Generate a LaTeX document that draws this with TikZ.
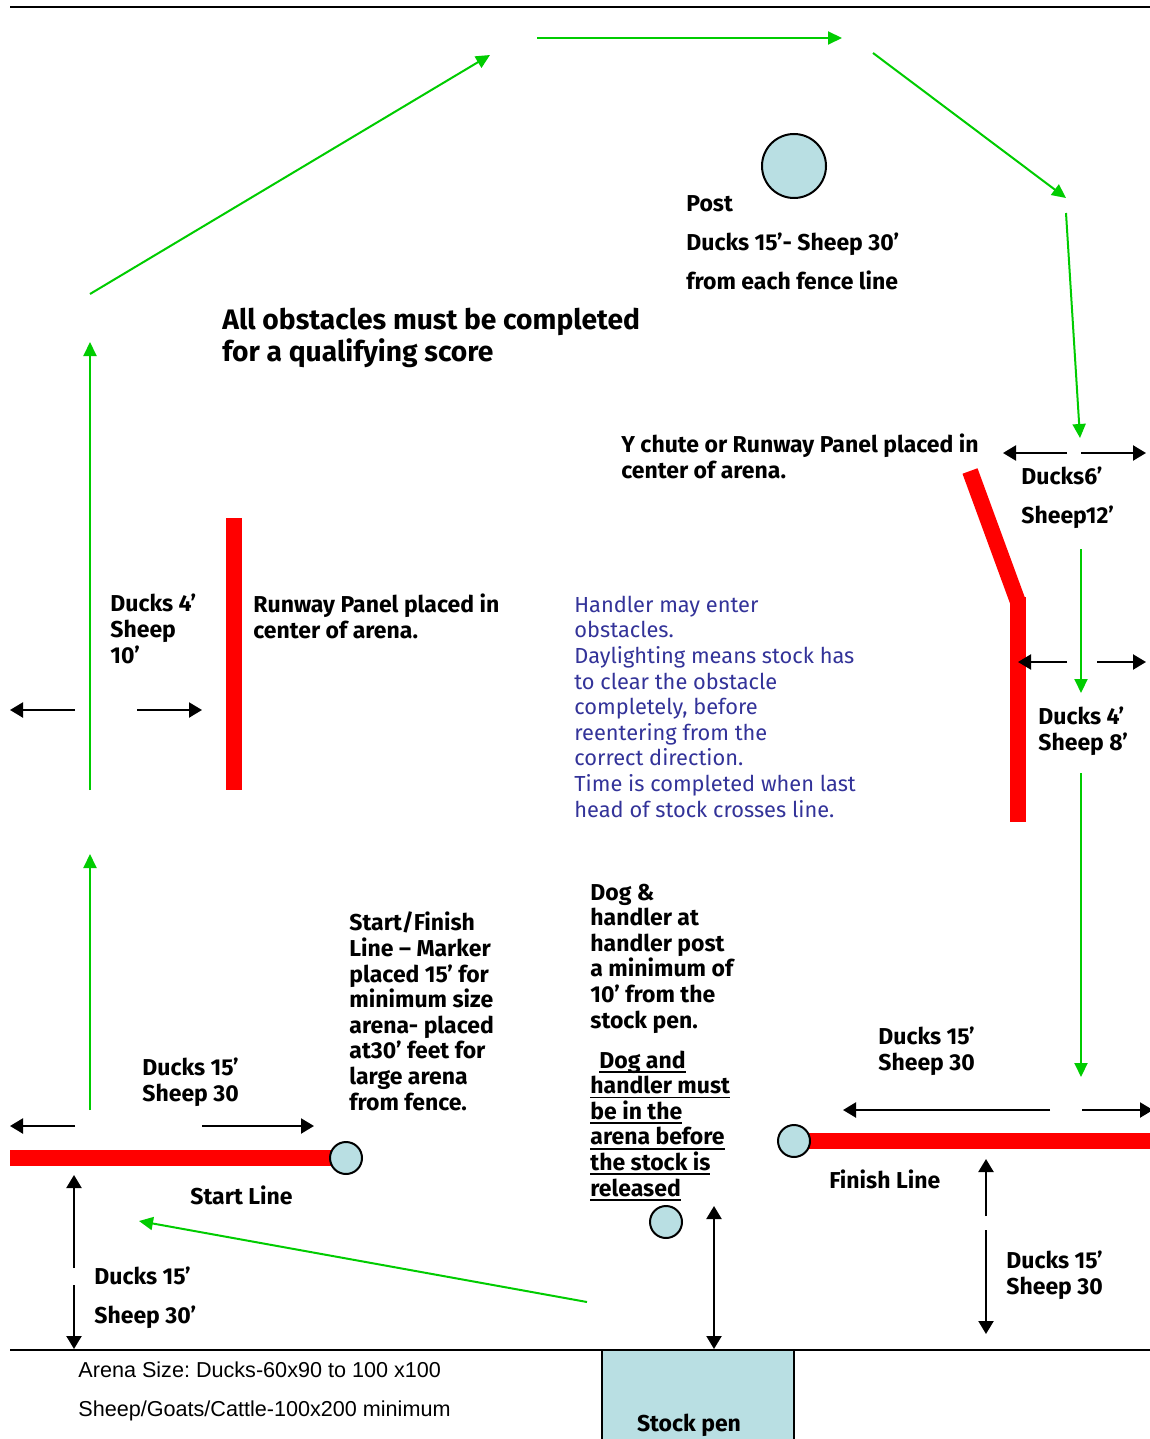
\documentclass[tikz,border=0pt]{standalone}
\usepackage{fontspec}
\setmainfont{Fira Sans}
\newfontfamily\arialf{Liberation Sans}
\usetikzlibrary{arrows.meta}
\definecolor{gr}{RGB}{0,204,0}
\definecolor{rd}{RGB}{255,0,0}
\definecolor{lb}{RGB}{185,223,227}
\definecolor{bl}{RGB}{51,51,153}
\newsavebox\ulbox
\newcommand\ulx[1]{\sbox\ulbox{#1}\rlap{\rule[-2.4pt]{\wd\ulbox}{0.9pt}}\usebox\ulbox}
\frenchspacing
\begin{document}
\begin{tikzpicture}[x=0.5pt,y=-0.5pt,
  garrow/.style={draw=gr,line width=1pt,-{Triangle[length=7pt,width=6.5pt]}},
  karrow/.style={draw=black,line width=1.1pt,-{Triangle[length=6.5pt,width=7.5pt]}},
  kdouble/.style={draw=black,line width=1.1pt,{Triangle[length=6.5pt,width=7.5pt]}-{Triangle[length=6.5pt,width=7.5pt]}},
  redbar/.style={draw=rd,line width=8pt,line cap=butt},
  postc/.style={circle,draw=black,fill=lb,line width=1pt,inner sep=0pt},
  lbl/.style={font=\bfseries\fontsize{11.5}{12.8}\selectfont,align=left,anchor=base west,inner sep=0pt},
  lblw/.style={font=\bfseries\fontsize{11.5}{19.3}\selectfont,align=left,anchor=base west,inner sep=0pt},
  ttl/.style={font=\bfseries\fontsize{14.1}{16}\selectfont,align=left,anchor=base west,inner sep=0pt},
  bluet/.style={font=\fontsize{10.9}{12.8}\selectfont,text=bl,align=left,anchor=base west,inner sep=0pt},
  arial/.style={font=\arialf\fontsize{10.8}{12}\selectfont,anchor=base west,inner sep=0pt}]
\useasboundingbox[fill=white] (0,0) rectangle (1150,1439);

% fence lines
\coordinate (tl1) at (10,7);  \coordinate (tl2) at (1150,7);
\draw[line width=0.8pt] (tl1) -- (tl2);
\coordinate (bl1) at (10,1350); \coordinate (bl2) at (1150,1350);

% stock pen
\draw[fill=lb,line width=1pt] (602,1350) rectangle (794,1460);
\draw[line width=0.9pt] (bl1) -- (bl2);
\node[lbl,anchor=base] (penlbl) at (689,1431) {Stock pen};

% green course arrows
\coordinate (g1a) at (90,294);   \coordinate (g1b) at (490,55);
\coordinate (g2a) at (537,38);   \coordinate (g2b) at (842,38);
\coordinate (g3a) at (873,53);   \coordinate (g3b) at (1066,198);
\coordinate (g4a) at (1066,213); \coordinate (g4b) at (1080,438);
\coordinate (g5a) at (1081,549); \coordinate (g5b) at (1081,693);
\coordinate (g6a) at (1081,773); \coordinate (g6b) at (1081,1077);
\coordinate (g7a) at (587,1302); \coordinate (g7b) at (139,1221);
\coordinate (g8a) at (90,1110);  \coordinate (g8b) at (90,854);
\coordinate (g9a) at (90,790);   \coordinate (g9b) at (90,342);
\foreach \i in {1,...,9} {\draw[garrow] (g\i a) -- (g\i b);}

% post
\node[postc,minimum size=32pt] (post) at (794,166) {};
\node[lblw] (posttxt) at (686,289) {Post\\Ducks 15’- Sheep 30’\\from each fence line};

% title
\node[ttl] (title) at (222,361) {All obstacles must be completed\\for a qualifying score};

% Y chute
\node[lbl] (ytxt) at (621,478) {Y chute or Runway Panel placed in\\center of arena.};
\coordinate (y1) at (970,471); \coordinate (y2) at (1018,602);
\coordinate (y3) at (1018,597); \coordinate (y4) at (1018,822);
\draw[redbar] (y1) -- (y2);
\draw[redbar] (y3) -- (y4);
\coordinate (a1s) at (1067,453); \coordinate (a1e) at (1003,453);
\coordinate (a2s) at (1081,453); \coordinate (a2e) at (1146,453);
\draw[karrow] (a1s) -- (a1e);
\draw[karrow] (a2s) -- (a2e);
\node[lblw] (ychutedim) at (1021,523) {Ducks6’\\Sheep12’};
\coordinate (a3s) at (1067,662); \coordinate (a3e) at (1018,662);
\coordinate (a4s) at (1097,662); \coordinate (a4e) at (1146,662);
\draw[karrow] (a3s) -- (a3e);
\draw[karrow] (a4s) -- (a4e);
\node[lbl] (ydim2) at (1038,750) {Ducks 4’\\Sheep 8’};

% left runway panel
\coordinate (r1) at (234,518); \coordinate (r2) at (234,790);
\draw[redbar] (r1) -- (r2);
\node[lbl] (runtxt) at (253,638) {Runway Panel placed in\\center of arena.};
\node[lbl] (rundim) at (110,663) {Ducks 4’\\Sheep\\10’};
\coordinate (a5s) at (75,710);  \coordinate (a5e) at (10,710);
\coordinate (a6s) at (137,710); \coordinate (a6e) at (202,710);
\draw[karrow] (a5s) -- (a5e);
\draw[karrow] (a6s) -- (a6e);

% blue notes
\node[bluet] (notes) at (574,817) {Handler may enter\\obstacles.\\Daylighting means stock has\\to clear the obstacle\\completely, before\\reentering from the\\correct direction.\\Time is completed when last\\head of stock crosses line.};

% start/finish note
\node[lbl] (sfnote) at (349,1110) {Start/Finish\\Line – Marker\\placed 15’ for\\minimum size\\arena- placed\\at30’ feet for\\large arena\\from fence.};

% dog & handler note
\node[lbl] (dognote) at (590,1028) {Dog \&\\handler at\\handler post\\a minimum of\\10’ from the\\stock pen.};
\node[lbl] (dogmust) at (590,1196) {\hspace*{4.5pt}\ulx{Dog and}\\\ulx{handler must}\\\ulx{be in the}\\\ulx{arena before}\\\ulx{the stock is}\\\ulx{released}};
\node[postc,minimum size=16pt] (hpost) at (666,1222) {};
\coordinate (p1) at (714,1206); \coordinate (p2) at (714,1349);
\draw[kdouble] (p1) -- (p2);

% start line
\coordinate (s1) at (10,1158); \coordinate (s2) at (338,1158);
\draw[redbar] (s1) -- (s2);
\node[postc,minimum width=15pt,minimum height=16pt] (spost) at (346,1158) {};
\coordinate (a7s) at (75,1126);  \coordinate (a7e) at (10,1126);
\coordinate (a8s) at (202,1126); \coordinate (a8e) at (314,1126);
\draw[karrow] (a7s) -- (a7e);
\draw[karrow] (a8s) -- (a8e);
\node[lbl] (sdim) at (142,1101) {Ducks 15’\\Sheep 30};
\node[lbl] (slbl) at (190,1204) {Start Line};
\coordinate (a9s) at (74,1268);  \coordinate (a9e) at (74,1175);
\coordinate (a10s) at (74,1285); \coordinate (a10e) at (74,1349);
\draw[karrow] (a9s) -- (a9e);
\draw[karrow] (a10s) -- (a10e);
\node[lblw] (sdim2) at (94,1323) {Ducks 15’\\Sheep 30’};

% finish line
\coordinate (f1) at (800,1141); \coordinate (f2) at (1150,1141);
\draw[redbar] (f1) -- (f2);
\node[postc,minimum size=16pt] (fpost) at (794,1141) {};
\coordinate (a11s) at (1050,1110); \coordinate (a11e) at (843,1110);
\coordinate (a12s) at (1082,1110); \coordinate (a12e) at (1153,1110);
\draw[karrow] (a11s) -- (a11e);
\draw[karrow] (a12s) -- (a12e);
\node[lbl] (fdim) at (878,1070) {Ducks 15’\\Sheep 30};
\node[lbl] (flbl) at (829,1188) {Finish Line};
\coordinate (a13s) at (986,1216); \coordinate (a13e) at (986,1159);
\coordinate (a14s) at (986,1230); \coordinate (a14e) at (986,1334);
\draw[karrow] (a13s) -- (a13e);
\draw[karrow] (a14s) -- (a14e);
\node[lbl] (fdim2) at (1006,1294) {Ducks 15’\\Sheep 30};

% arena size
\node[arial] (ar1) at (78,1377) {Arena Size: Ducks-60x90 to 100 x100};
\node[arial] (ar2) at (78,1416) {Sheep/Goats/Cattle-100x200 minimum};
\end{tikzpicture}
\end{document}
